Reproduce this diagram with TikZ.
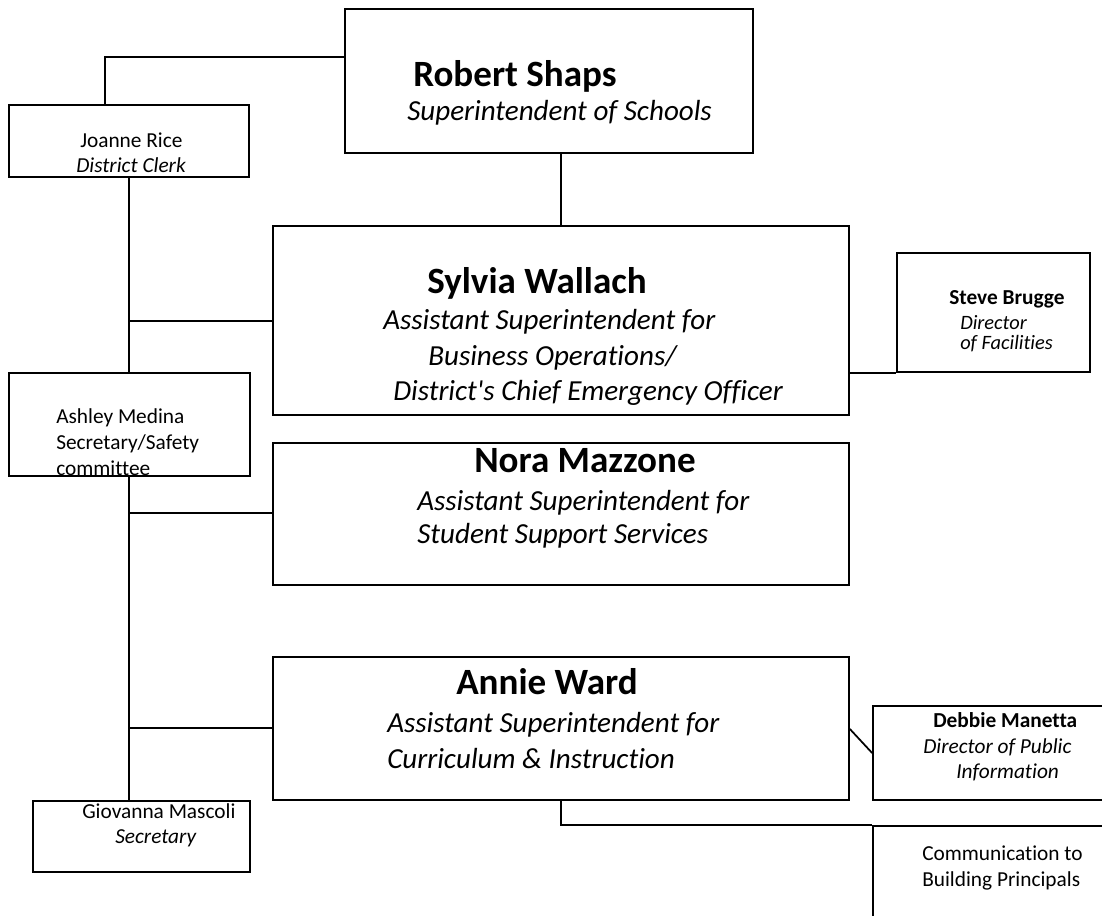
\documentclass[tikz,border=0pt]{standalone}
\usepackage{fontspec}
\setmainfont{Carlito}[Ligatures=NoCommon]
\newfontfamily\cfont{Carlito}[Ligatures=NoCommon]
\usetikzlibrary{fit}
\tikzset{
  box/.style={draw=black, line width=1.3pt, inner sep=0pt, fill=none},
  conn/.style={draw=black, line width=1.3pt},
  bigname/.style={font=\cfont\fontsize{27.8pt}{33pt}\selectfont\bfseries, anchor=base west, inner sep=0pt},
  bigtitle/.style={font=\cfont\fontsize{21.8pt}{26pt}\selectfont\itshape, anchor=base west, inner sep=0pt},
  smallname/.style={font=\cfont\fontsize{16pt}{19pt}\selectfont\bfseries, anchor=base west, inner sep=0pt},
  smalltext/.style={font=\cfont\fontsize{16pt}{19pt}\selectfont, anchor=base west, inner sep=0pt},
  smallital/.style={font=\cfont\fontsize{16pt}{19pt}\selectfont\itshape, anchor=base west, inner sep=0pt},
  tightital/.style={font=\cfont\fontsize{15.3pt}{17pt}\selectfont\itshape, anchor=base west, inner sep=0pt},
}
\begin{document}
\begin{tikzpicture}[x=0.75pt,y=-0.75pt]
\useasboundingbox (0,0) rectangle (1102,916);
% boxes
\node[box, fit={(345,9) (753,153)}] (robert) {};
\node[box, fit={(9,105) (249,177)}] (joanne) {};
\node[box, fit={(273,226) (849,415)}] (sylvia) {};
\node[box, fit={(897,253) (1090,372)}] (steve) {};
\node[box, fit={(9,373) (250,476)}] (ashley) {};
\node[box, fit={(273,443) (849,585)}] (nora) {};
\node[box, fit={(273,657) (849,800)}] (annie) {};
\node[box, fit={(873,706) (1112,800)}] (debbie) {};
\node[box, fit={(33,801) (250,872)}] (giovanna) {};
\node[box, fit={(873,826) (1112,932)}] (comm) {};
% texts
\node[bigname] (t1) at (413,87) {Robert Shaps};
\node[bigtitle] (t2) at (407,121) {Superintendent of Schools};
\node[smalltext] (t3) at (80,148) {Joanne Rice};
\node[smallital] (t4) at (76,173) {District Clerk};
\node[bigname] (t5) at (427,293) {Sylvia Wallach};
\node[bigtitle] (t6) at (383,329) {Assistant Superintendent for};
\node[bigtitle] (t7) at (428,365) {Business Operations/};
\node[bigtitle] (t8) at (393,400) {District's Chief Emergency Officer};
\node[smallname] (t9) at (949,304) {Steve Brugge};
\node[tightital] (t10) at (960,329) {Director};
\node[tightital] (t11) at (960,349) {of Facilities};
\node[smalltext] (t12) at (56,423) {Ashley Medina};
\node[smalltext] (t13) at (56,449) {Secretary/Safety};
\node[smalltext] (t14) at (56,475) {committee};
\node[bigname] (t15) at (474,472) {Nora Mazzone};
\node[bigtitle] (t16) at (417,510) {Assistant Superintendent for};
\node[bigtitle] (t17) at (417,543) {Student Support Services};
\node[bigname] (t18) at (456,694) {Annie Ward};
\node[bigtitle] (t19) at (387,732) {Assistant Superintendent for};
\node[bigtitle] (t20) at (387,768) {Curriculum \& Instruction};
\node[smallname] (t21) at (933,727) {Debbie Manetta};
\node[smallital] (t22) at (923,753) {Director of Public};
\node[smallital] (t23) at (956,778) {Information};
\node[smalltext] (t24) at (82,818) {Giovanna Mascoli};
\node[smallital] (t25) at (115,843) {Secretary};
\node[smalltext] (t26) at (922,860) {Communication to};
\node[smalltext] (t27) at (922,886) {Building Principals};
% helper coordinates
\coordinate (c1) at (105,57);
\coordinate (b1) at (129,321);
\coordinate (b2) at (129,513);
\coordinate (b3) at (129,728);
\coordinate (d1) at (0,729);
\coordinate (d2) at (0,753);
% connectors
\draw[conn] (c1 -| robert.west) -| (joanne.north -| c1);
\draw[conn] (robert.south -| sylvia.north) -- (sylvia.north);
\draw[conn] (joanne.south -| b1) -- (ashley.north -| b1);
\draw[conn] (b1) -- (b1 -| sylvia.west);
\draw[conn] (steve.south west -| sylvia.east) -- (steve.south west);
\draw[conn] (ashley.south -| b2) -- (giovanna.north -| b2);
\draw[conn] (b2) -- (b2 -| nora.west);
\draw[conn] (b3) -- (b3 -| annie.west);
\draw[conn] (d1 -| annie.east) -- (d2 -| debbie.west);
\draw[conn] (annie.south) |- (comm.north west);
\end{tikzpicture}
\end{document}
